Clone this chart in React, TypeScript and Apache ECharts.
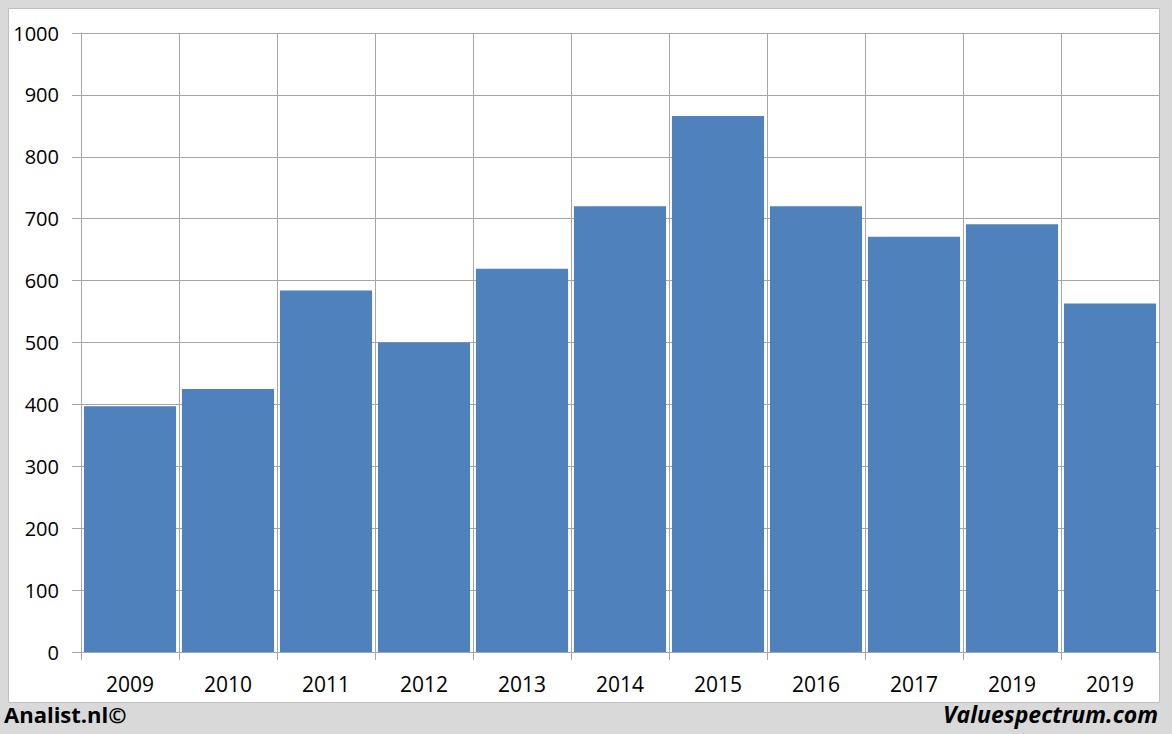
import React, { useEffect, useRef } from "react";
import * as echarts from "echarts";

const categories = ["2009", "2010", "2011", "2012", "2013", "2014", "2015", "2016", "2017", "2019", "2019"];
const values = [397, 425, 584, 500, 619, 720, 866, 720, 671, 691, 563];
const yMin = 0;
const yMax = 1000;
const yInterval = 100;

export default function App() {
  const ref = useRef<HTMLDivElement>(null);
  useEffect(() => {
    document.body.style.margin = "0";
    const chart = echarts.init(ref.current!, null, { renderer: "svg" });
    const font = "'Open Sans', 'Liberation Sans', sans-serif";
    chart.setOption({
      animation: false,
      backgroundColor: "#d9d9d9",
      graphic: [
        {
          type: "rect",
          z: -10,
          shape: { x: 8.5, y: 8.5, width: 1151, height: 694 },
          style: { fill: "#ffffff", stroke: "#bfbfbf", lineWidth: 1 },
        },
        {
          type: "text",
          left: 4,
          top: 703,
          style: { text: "Analist.nl©", fontFamily: font, fontWeight: "bold", fontSize: 22, fill: "#000" },
        },
        {
          type: "text",
          right: 14,
          top: 702,
          style: { text: "Valuespectrum.com", fontFamily: font, fontWeight: "bold", fontStyle: "italic", fontSize: 23, fill: "#000" },
        },
      ],
      grid: { left: 81, top: 33, right: 13, bottom: 82, containLabel: false },
      xAxis: {
        type: "category",
        data: categories,
        boundaryGap: true,
        axisLine: { show: true, lineStyle: { color: "#a6a6a6", width: 1 } },
        axisTick: { show: true, length: 8, alignWithLabel: false, lineStyle: { color: "#a6a6a6" } },
        splitLine: { show: true, interval: 0, lineStyle: { color: "#a6a6a6", width: 1 } },
        axisLabel: { color: "#000", fontFamily: font, fontSize: 21, margin: 21, interval: 0 },
      },
      yAxis: {
        type: "value",
        min: yMin,
        max: yMax,
        interval: yInterval,
        axisLine: { show: true, lineStyle: { color: "#a6a6a6", width: 1 } },
        axisTick: { show: true, inside: false, length: 9, lineStyle: { color: "#a6a6a6" } },
        splitLine: { show: true, lineStyle: { color: "#a6a6a6", width: 1 } },
        axisLabel: { color: "#000", fontFamily: font, fontSize: 20, margin: 22, formatter: (v: number) => String(v) },
      },
      series: [
        {
          type: "bar",
          data: values,
          barCategoryGap: "6%",
          itemStyle: { color: "#4f81bd" },
        },
      ],
    });
    return () => chart.dispose();
  }, []);
  return <div ref={ref} style={{ position: "fixed", left: 0, top: 0, width: 1172, height: 734 }} />;
}
